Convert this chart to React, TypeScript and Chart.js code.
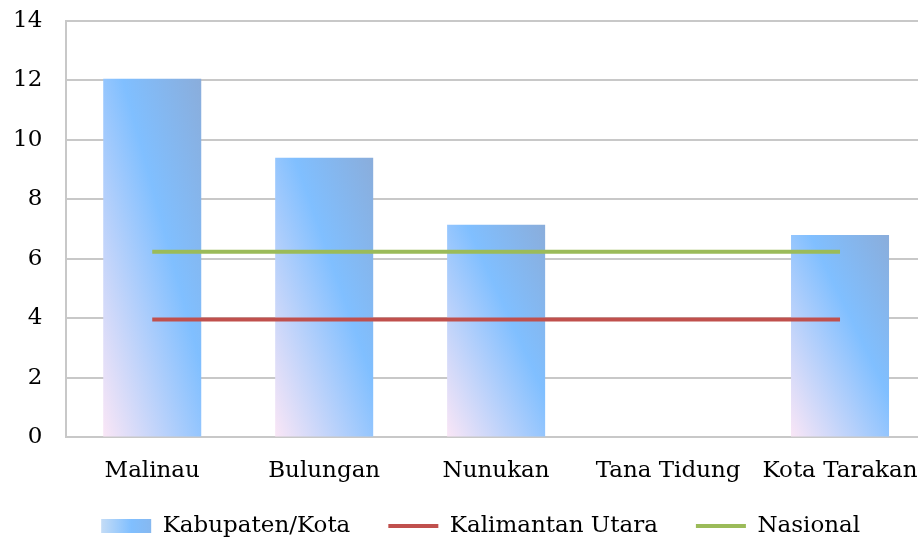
import React, { useEffect, useRef } from "react";
import { Chart, registerables } from "chart.js";

Chart.register(...registerables);

const categories = ["Malinau", "Bulungan", "Nunukan", "Tana Tidung", "Kota Tarakan"];
const kabupatenKota = [12.05, 9.4, 7.15, 0, 6.8];
const kalimantanUtara = [3.96, 3.96, 3.96, 3.96, 3.96];
const nasional = [6.24, 6.24, 6.24, 6.24, 6.24];
const seriesLabels = ["Kabupaten/Kota", "Kalimantan Utara", "Nasional"];
const yMin = 0;
const yMax = 14;
const yStep = 2;

const BAR_FRACTION = 0.57;
const RED = "#C0504D";
const GREEN = "#9BBB59";
const FONT_SIZE = 23;

function barGradient(context: any) {
  const chart = context.chart;
  const xs = chart.scales?.x;
  const ys = chart.scales?.y;
  if (!xs || !ys || context.type !== "data" || !(xs.width > 0)) return "#80BFFF";
  const v = context.parsed?.y ?? context.raw;
  const cx = xs.getPixelForValue(context.dataIndex);
  const w = (xs.width / categories.length) * BAR_FRACTION;
  const x0 = cx - w / 2;
  const top = ys.getPixelForValue(v);
  const bottom = ys.getPixelForValue(0);
  const h = bottom - top;
  if (!(h > 0) || !isFinite(cx)) return "#80BFFF";
  const L2 = w * w + h * h;
  const g = chart.ctx.createLinearGradient(
    x0,
    bottom,
    x0 + (2 * w * h * h) / L2,
    bottom - (2 * w * w * h) / L2
  );
  g.addColorStop(0, "#FAE6F6");
  g.addColorStop(0.6, "#80BFFF");
  g.addColorStop(1, "#8AADDB");
  return g;
}

// Positions the legend row relative to the plot area, as in the reference.
const legendPlacePlugin = {
  id: "legendPlace",
  afterLayout(chart: any) {
    const legend = chart.legend;
    const area = chart.chartArea;
    if (!legend || !area) return;
    const dx = area.left + 0.482 * (area.right - area.left) - (legend.left + legend.right) / 2;
    const dy = area.bottom + 39 - legend.top;
    legend.left += dx;
    legend.right += dx;
    legend.top += dy;
    legend.bottom += dy;
  },
  beforeDraw(chart: any) {
    const legend = chart.legend;
    if (!legend || !legend.legendItems || !legend.legendHitBoxes) return;
    const hb = legend.legendHitBoxes[0];
    const item = legend.legendItems[0];
    if (!hb || !item) return;
    const g = chart.ctx.createLinearGradient(hb.left, 0, hb.left + 50, 0);
    g.addColorStop(0, "#C4DCF6");
    g.addColorStop(0.6, "#80BFFF");
    g.addColorStop(1, "#86B8F0");
    item.fillStyle = g;
  },
};

export default function App() {
  const ref = useRef<HTMLCanvasElement | null>(null);

  useEffect(() => {
    document.body.style.margin = "0";
    document.body.style.overflow = "hidden";
    const canvas = ref.current;
    if (!canvas) return;
    Chart.defaults.font.family = "'DejaVu Serif', serif";
    Chart.defaults.color = "#000";
    const chart = new Chart(canvas, {
      type: "bar",
      data: {
        labels: categories,
        datasets: [
          {
            type: "bar",
            label: seriesLabels[0],
            data: kabupatenKota,
            backgroundColor: barGradient,
            borderWidth: 0,
            categoryPercentage: 1,
            barPercentage: BAR_FRACTION,
            order: 2,
          } as any,
          {
            type: "line",
            label: seriesLabels[1],
            data: kalimantanUtara,
            borderColor: RED,
            backgroundColor: RED,
            borderWidth: 4,
            pointRadius: 0,
            fill: false,
            order: 1,
          },
          {
            type: "line",
            label: seriesLabels[2],
            data: nasional,
            borderColor: GREEN,
            backgroundColor: GREEN,
            borderWidth: 4,
            pointRadius: 0,
            fill: false,
            order: 0,
          },
        ],
      },
      options: {
        responsive: true,
        maintainAspectRatio: false,
        animation: false,
        layout: { padding: { left: 10, right: 13, top: 8, bottom: 0 } },
        plugins: {
          tooltip: { enabled: false },
          legend: {
            position: "bottom",
            labels: {
              font: { size: FONT_SIZE },
              color: "#000",
              usePointStyle: true,
              pointStyleWidth: 50,
              boxWidth: 50,
              boxHeight: 14,
              padding: 38,
              generateLabels: (ch: any) =>
                ch.data.datasets.map((ds: any, i: number) => ({
                  text: ds.label,
                  datasetIndex: i,
                  fillStyle: i === 0 ? "#8EC4F8" : ds.borderColor,
                  strokeStyle: i === 0 ? "rgba(0,0,0,0)" : ds.borderColor,
                  lineWidth: i === 0 ? 0 : 4,
                  pointStyle: i === 0 ? "rect" : "line",
                  lineCap: "butt",
                  hidden: false,
                  fontColor: "#000",
                })),
            },
          },
        },
        scales: {
          x: {
            grid: { display: false, drawTicks: false },
            border: { display: true, color: "#C8C8C8", width: 2 },
            ticks: { font: { size: FONT_SIZE }, color: "#000", padding: 20, maxRotation: 0 },
          },
          y: {
            min: yMin,
            max: yMax,
            grid: { color: "#C8C8C8", lineWidth: 2, drawTicks: false },
            border: { display: true, color: "#C8C8C8", width: 2 },
            ticks: { stepSize: yStep, font: { size: FONT_SIZE }, color: "#000", padding: 24 },
          },
        },
      },
      plugins: [legendPlacePlugin],
    });
    return () => chart.destroy();
  }, []);

  return (
    <div style={{ width: 918, height: 537, overflow: "hidden", position: "relative", background: "#fff" }}>
      <div style={{ width: 960, height: 593, position: "absolute", left: -21, top: -17 }}>
        <canvas ref={ref} />
      </div>
    </div>
  );
}
